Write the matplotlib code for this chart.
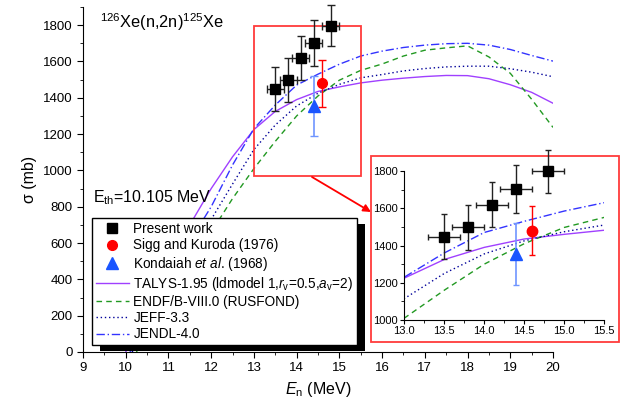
import numpy as np
import matplotlib
matplotlib.use('Agg')
import matplotlib.pyplot as plt
from matplotlib.lines import Line2D
from matplotlib.patches import Rectangle, FancyArrowPatch
from matplotlib.ticker import MultipleLocator, FormatStrFormatter

plt.rcParams['font.family'] = ['Liberation Sans', 'DejaVu Sans']
plt.rcParams['mathtext.fontset'] = 'custom'
plt.rcParams['mathtext.rm'] = 'Liberation Sans'
plt.rcParams['mathtext.it'] = 'Liberation Sans:italic'

# measured data (present work)
E_pw = [13.5, 13.8, 14.1, 14.4, 14.8]
dE_pw = [0.2, 0.2, 0.2, 0.2, 0.2]
sig_pw = [1448, 1498, 1620, 1702, 1798]
dsig_pw = [120, 120, 122, 128, 115]

# Sigg and Kuroda (1976)
E_sk = [14.6]
sig_sk = [1480]
dsig_sk = [130]

# Kondaiah et al. (1968)
E_ko = [14.4]
sig_ko = [1355]
dsig_ko = [165]

# evaluated / calculated curves
E_talys = [10.0, 10.5, 11.0, 11.5, 12.0, 12.5, 13.0, 13.5, 14.0, 14.5, 15.0, 15.5,
           16.0, 16.5, 17.0, 17.5, 18.0, 18.5, 19.0, 19.5, 20.0]
sig_talys = [0, 230, 470, 700, 900, 1075, 1225, 1325, 1390, 1435, 1460, 1482,
             1497, 1508, 1517, 1523, 1522, 1505, 1472, 1430, 1370]

E_endf = [10.25, 10.5, 11.0, 11.5, 12.0, 12.5, 13.0, 13.5, 14.0, 14.5, 15.0, 15.5,
          16.0, 16.5, 17.0, 17.5, 18.0, 18.5, 19.0, 19.5, 20.0]
sig_endf = [0, 100, 300, 490, 660, 845, 1010, 1160, 1300, 1410, 1497, 1551,
            1586, 1630, 1662, 1675, 1686, 1625, 1535, 1392, 1237]

E_jeff = [10.15, 10.5, 11.0, 11.5, 12.0, 12.5, 13.0, 13.5, 14.0, 14.5, 15.0, 15.5,
          16.0, 16.5, 17.0, 17.5, 18.0, 18.5, 19.0, 19.5, 20.0]
sig_jeff = [0, 150, 370, 570, 730, 925, 1115, 1250, 1355, 1425, 1474, 1510,
            1528, 1548, 1561, 1570, 1574, 1574, 1560, 1541, 1516]

E_jendl = [10.1, 10.5, 11.0, 11.5, 12.0, 12.5, 13.0, 13.5, 14.0, 14.5, 15.0, 15.5,
           16.0, 16.5, 17.0, 17.5, 18.0, 18.5, 19.0, 19.5, 20.0]
sig_jendl = [0, 180, 400, 610, 800, 1030, 1230, 1360, 1470, 1530, 1585, 1630,
             1657, 1677, 1690, 1698, 1700, 1690, 1666, 1633, 1602]

c_talys = '#a040ff'
c_endf = '#229922'
c_jeff = '#000099'
c_jendl = '#3333ff'


def draw_all(ax, ms, cap, lw=1.0):
    ax.plot(E_talys, sig_talys, '-', color=c_talys, lw=lw)
    ax.plot(E_endf, sig_endf, color=c_endf, lw=lw, ls=(0, (4, 3)))
    ax.plot(E_jeff, sig_jeff, color=c_jeff, lw=lw, ls=(0, (1, 2)))
    ax.plot(E_jendl, sig_jendl, color=c_jendl, lw=lw, ls=(0, (6, 2, 1, 2)))
    ax.errorbar(E_pw, sig_pw, xerr=dE_pw, yerr=dsig_pw, fmt='s', color='k',
                ms=ms, elinewidth=1, capsize=cap, ecolor='#222222', clip_on=False, zorder=5)
    ax.errorbar(E_sk, sig_sk, yerr=dsig_sk, fmt='o', color='red', ms=ms,
                elinewidth=1, capsize=cap, ecolor='red', clip_on=False, zorder=5)
    ax.errorbar(E_ko, sig_ko, yerr=dsig_ko, fmt='^', color='#1a55ff', ms=ms + 1,
                elinewidth=1.2, capsize=cap, ecolor='#6f95ff', clip_on=False, zorder=5)


fig = plt.figure(figsize=(6.33, 4.03), dpi=100)
ax = fig.add_axes([83 / 633, 51 / 403, 470 / 633, 345 / 403])
draw_all(ax, 7, 3)

ax.set_xlim(9, 20)
ax.set_ylim(0, 1900)
ax.spines['top'].set_visible(False)
ax.spines['right'].set_visible(False)
ax.xaxis.set_major_locator(MultipleLocator(1))
ax.xaxis.set_minor_locator(MultipleLocator(0.5))
ax.yaxis.set_major_locator(MultipleLocator(200))
ax.yaxis.set_minor_locator(MultipleLocator(100))
ax.set_yticks(np.arange(0, 1801, 200))
ax.tick_params(which='both', direction='out', labelsize=9.5)
ax.tick_params(which='major', length=4)
ax.tick_params(which='minor', length=2.5)
ax.set_xlabel('$E_\\mathrm{n}$ (MeV)', fontsize=11.5)
ax.set_ylabel('σ (mb)', fontsize=11.5)

ax.text(0.036, 0.939, '$^{126}$Xe(n,2n)$^{125}$Xe', transform=ax.transAxes,
        fontsize=11.8, va='baseline', ha='left')
ax.text(0.021, 0.435, 'E$_\\mathrm{th}$=10.105 MeV', transform=ax.transAxes,
        fontsize=11.5, va='baseline', ha='left')

# zoom region marker
ax.add_patch(Rectangle((13.0, 970), 2.5, 825, fill=False, ec='#ff3b3b', lw=1.3, zorder=4))

handles = [
    Line2D([], [], ls='none', marker='s', color='k', ms=7),
    Line2D([], [], ls='none', marker='o', color='red', ms=7),
    Line2D([], [], ls='none', marker='^', color='#1a55ff', ms=8),
    Line2D([], [], color=c_talys, lw=1),
    Line2D([], [], color=c_endf, lw=1, ls=(0, (4, 3))),
    Line2D([], [], color=c_jeff, lw=1, ls=(0, (1, 2))),
    Line2D([], [], color=c_jendl, lw=1, ls=(0, (6, 2, 1, 2))),
]
labels = [
    'Present work',
    'Sigg and Kuroda (1976)',
    'Kondaiah $et\\ al$. (1968)',
    'TALYS-1.95 (ldmodel 1,$r_\\mathrm{v}$=0.5,$a_\\mathrm{v}$=2)',
    'ENDF/B-VIII.0 (RUSFOND)',
    'JEFF-3.3',
    'JENDL-4.0',
]
leg = ax.legend(handles, labels, loc='upper left', bbox_to_anchor=(0.019, 0.388),
                borderaxespad=0, fontsize=9.8, frameon=True, fancybox=False,
                edgecolor='k', framealpha=1, handlelength=2.4, labelspacing=0.16,
                borderpad=0.3, handletextpad=0.35)
leg.get_frame().set_linewidth(1.0)
leg.set_zorder(10)

# black drop shadow behind the legend
fig.canvas.draw()
bb = leg.get_window_extent()
shadow = Rectangle((bb.x0 + 8, bb.y0 - 6), bb.width, bb.height, transform=None,
                   fc='k', ec='none', zorder=9)
ax.add_artist(shadow)
shadow.set_clip_on(False)

# inset frame and inset axes
fig.patches.append(Rectangle((370.7 / 633, 1 - 341.7 / 403), 248.6 / 633, 186 / 403,
                             transform=fig.transFigure, fc='white', ec='#ff3b3b',
                             lw=1.3, zorder=2))
axin = fig.add_axes([404.3 / 633, 83 / 403, 200 / 633, 149 / 403])
axin.set_zorder(3)
axin.patch.set_alpha(0)
draw_all(axin, 7.5, 2.5)
axin.set_xlim(13.0, 15.5)
axin.set_ylim(1000, 1800)
axin.spines['top'].set_visible(False)
axin.spines['right'].set_visible(False)
axin.xaxis.set_major_locator(MultipleLocator(0.5))
axin.xaxis.set_minor_locator(MultipleLocator(0.25))
axin.xaxis.set_major_formatter(FormatStrFormatter('%.1f'))
axin.yaxis.set_major_locator(MultipleLocator(200))
axin.yaxis.set_minor_locator(MultipleLocator(100))
axin.tick_params(which='both', direction='out', labelsize=8, pad=1.5)
axin.tick_params(which='major', length=3)
axin.tick_params(which='minor', length=2)

arrow = FancyArrowPatch((312 / 633, 1 - 177 / 403), (371 / 633, 1 - 212 / 403),
                        transform=fig.transFigure, arrowstyle='-|>', color='red',
                        lw=1.3, mutation_scale=11, shrinkA=0, shrinkB=0)
fig.patches.append(arrow)

fig.savefig('out.png', dpi=100)
